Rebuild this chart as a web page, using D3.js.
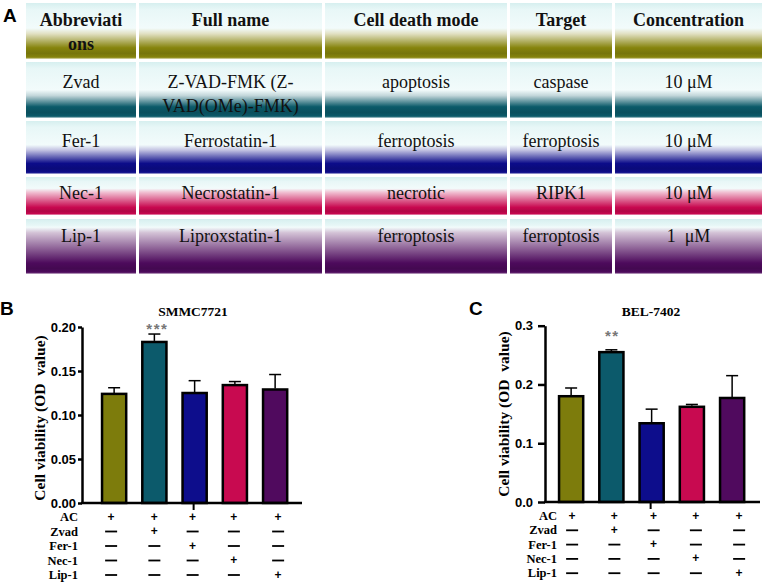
<!DOCTYPE html>
<html><head><meta charset="utf-8">
<script src="https://cdn.jsdelivr.net/npm/d3@7"></script>
<style>
html,body{margin:0;padding:0;background:#fff;}
svg{display:block;}
</style></head>
<body>
<svg id="chart" width="768" height="585"></svg>
<script>
// ---------- DATA ----------
const tableHeader = ["Abbreviati|ons", "Full name", "Cell death mode", "Target", "Concentration"];
const abbrevs = ["Zvad", "Fer-1", "Nec-1", "Lip-1"];
const fullNames = ["Z-VAD-FMK (Z-|VAD(OMe)-FMK)", "Ferrostatin-1", "Necrostatin-1", "Liproxstatin-1"];
const deathModes = ["apoptosis", "ferroptosis", "necrotic", "ferroptosis"];
const targets = ["caspase", "ferroptosis", "RIPK1", "ferroptosis"];
const concentrations = ["10 \u03bcM", "10 \u03bcM", "10 \u03bcM", "1  \u03bcM"];
const rowColors = ["#86840c", "#0b5a69", "#0c0c8a", "#c8084f", "#4d0a5c"];

const groups = ["AC", "AC+Zvad", "AC+Fer-1", "AC+Nec-1", "AC+Lip-1"];
const barColors = ["#7d7c0c", "#0c5a6b", "#0d0d8c", "#c80a50", "#500a5e"];
const smmcMean = [0.124, 0.183, 0.125, 0.134, 0.129];
const smmcErr  = [0.007, 0.009, 0.014, 0.004, 0.017];
const belMean  = [0.180, 0.255, 0.134, 0.162, 0.177];
const belErr   = [0.014, 0.004, 0.024, 0.004, 0.038];
const smmcTicks = [0, 0.05, 0.10, 0.15, 0.20];
const belTicks  = [0, 0.1, 0.2, 0.3];
const smmcSig = "***";
const belSig = "**";
const treatLabels = ["AC", "Zvad", "Fer-1", "Nec-1", "Lip-1"];
const treatMatrix = [
  [1,1,1,1,1],
  [0,1,0,0,0],
  [0,0,1,0,0],
  [0,0,0,1,0],
  [0,0,0,0,1]
];

// ---------- TABLE (panel A) ----------
const svg = d3.select("#chart");
const defs = svg.append("defs");
const colEdges = [[26,136],[139,322],[325,507],[510,612],[615,762]];
const rowEdges = [[3,59],[62,118],[121,174],[177,215],[219,274]];
const bandStart = [0.55, 0.6, 0.55, 0.4, 0.25];

rowColors.forEach((c, i) => {
  const g = defs.append("linearGradient").attr("id", "g" + i)
    .attr("x1", 0).attr("y1", 0).attr("x2", 0).attr("y2", 1);
  const light = d3.interpolateRgb(c, "#ffffff")(0.75);
  const dark = d3.color(c).darker(0.35);
  const stops = [
    [0, "#d6efef"], [0.12, "#e8f7f7"], [bandStart[i] - 0.1, "#f2fbfb"],
    [bandStart[i], light], [0.8, c], [0.9, dark], [0.97, c], [1, light]
  ];
  stops.forEach(s => g.append("stop").attr("offset", s[0]).attr("stop-color", s[1]));
});

const tableData = [tableHeader].concat(abbrevs.map((a, i) => [a, fullNames[i], deathModes[i], targets[i], concentrations[i]]));
const table = svg.append("g");
tableData.forEach((row, r) => {
  row.forEach((txt, c) => {
    const [x0, x1] = colEdges[c];
    const [y0, y1] = rowEdges[r];
    table.append("rect").attr("x", x0).attr("y", y0).attr("width", x1 - x0).attr("height", y1 - y0)
      .attr("fill", `url(#g${r})`);
    const lines = txt.split("|");
    const cx = (x0 + x1) / 2;
    const textY = r === 0 ? 26 : [0, 88, 147, 199, 242][r];
    lines.forEach((ln, k) => {
      table.append("text").attr("x", cx).attr("y", textY + k * 24)
        .attr("text-anchor", "middle")
        .attr("font-family", "'Liberation Serif','DejaVu Serif',serif")
        .attr("font-size", 18)
        .attr("font-weight", r === 0 ? "bold" : "normal")
        .attr("fill", "#111")
        .attr("xml:space", "preserve")
        .text(ln);
    });
  });
});

// panel letters
const letterStyle = sel => sel.attr("font-family", "'Liberation Sans',Arial,sans-serif").attr("font-weight", "bold").attr("font-size", 19).attr("fill", "#000");
svg.append("text").attr("x", 3).attr("y", 22).text("A").call(letterStyle);
svg.append("text").attr("x", 0).attr("y", 315).text("B").call(letterStyle);
svg.append("text").attr("x", 469).attr("y", 315).text("C").call(letterStyle);

// ---------- BAR CHARTS ----------
function drawPanel(opt) {
  const g = svg.append("g");
  const x = d3.scaleBand().domain(groups).range(opt.xr).paddingInner(0.4).paddingOuter(0.2);
  const y = d3.scaleLinear().domain(opt.domain).range(opt.yr);

  // bars
  g.selectAll(".bar").data(opt.mean).enter().append("rect")
    .attr("x", (d, i) => x(groups[i]))
    .attr("y", d => y(d))
    .attr("width", x.bandwidth())
    .attr("height", d => y(0) - y(d))
    .attr("fill", (d, i) => barColors[i])
    .attr("stroke", "#000").attr("stroke-width", 2.5);

  // error bars
  opt.mean.forEach((m, i) => {
    const cx = x(groups[i]) + x.bandwidth() / 2;
    const top = y(m + opt.err[i]);
    g.append("line").attr("x1", cx).attr("x2", cx).attr("y1", y(m) - 1).attr("y2", top)
      .attr("stroke", "#000").attr("stroke-width", 1.5);
    g.append("line").attr("x1", cx - 6).attr("x2", cx + 6).attr("y1", top).attr("y2", top)
      .attr("stroke", "#000").attr("stroke-width", 1.5);
  });

  // y axis
  const ya = g.append("g").attr("transform", `translate(${opt.axisX},0)`)
    .call(d3.axisLeft(y).tickValues(opt.ticks).tickFormat(d3.format(opt.fmt)).tickSize(opt.tickLen).tickPadding(opt.tickPad).tickSizeOuter(0));
  ya.select(".domain").attr("stroke", "#000").attr("stroke-width", 2.5);
  ya.selectAll(".tick line").attr("stroke", "#000").attr("stroke-width", 2.5);
  ya.selectAll(".tick text").attr("font-family", "'Liberation Sans',Arial,sans-serif")
    .attr("font-weight", "bold").attr("font-size", 13).attr("fill", "#000");

  // x axis line
  g.append("line").attr("x1", opt.axisX - 1).attr("x2", opt.axisEnd).attr("y1", y(0)).attr("y2", y(0))
    .attr("stroke", "#000").attr("stroke-width", 2.5);
  const midX = x(groups[2]) + x.bandwidth() / 2 - 1;
  g.append("line").attr("x1", midX).attr("x2", midX).attr("y1", y(0)).attr("y2", y(0) + 7)
    .attr("stroke", "#000").attr("stroke-width", 2);

  // y title
  g.append("text").attr("transform", `translate(${opt.titleX},${opt.titleY}) rotate(-90)`)
    .attr("text-anchor", "middle")
    .attr("font-family", "'Liberation Serif','DejaVu Serif',serif")
    .attr("font-weight", "bold").attr("font-size", 15.5).attr("fill", "#000")
    .attr("xml:space", "preserve")
    .text("Cell viability (OD  value)");

  // chart title
  g.append("text").attr("x", opt.headX).attr("y", 316).attr("text-anchor", "middle")
    .attr("font-family", "'Liberation Serif','DejaVu Serif',serif")
    .attr("font-weight", "bold").attr("font-size", 13.5).attr("fill", "#000")
    .text(opt.title);

  // significance
  const sx = x(groups[1]) + x.bandwidth() / 2 + opt.sigDx;
  g.append("text").attr("x", sx).attr("y", opt.sigY).attr("text-anchor", "middle")
    .attr("font-family", "'Liberation Sans',Arial,sans-serif").attr("font-weight", "bold")
    .attr("font-size", 15).attr("fill", "#777").attr("letter-spacing", 1.5)
    .text(opt.sig);

  // treatment table
  treatLabels.forEach((lab, r) => {
    const ty = opt.rowY0 + r * opt.rowStep;
    g.append("text").attr("x", opt.labelX).attr("y", ty).attr("text-anchor", "end")
      .attr("font-family", "'Liberation Serif','DejaVu Serif',serif")
      .attr("font-weight", "bold").attr("font-size", 12.5).attr("fill", "#000").text(lab);
    treatMatrix[r].forEach((v, c) => {
      const cx = x(groups[c]) + x.bandwidth() / 2 + opt.colDx[c];
      if (v) {
        g.append("text").attr("x", cx).attr("y", ty - 0.5).attr("text-anchor", "middle")
          .attr("font-family", "'Liberation Sans',Arial,sans-serif").attr("font-weight", "bold")
          .attr("font-size", 12).attr("fill", "#000").text("+");
      } else {
        g.append("line").attr("x1", cx - 6).attr("x2", cx + 6).attr("y1", ty - 4).attr("y2", ty - 4)
          .attr("stroke", "#000").attr("stroke-width", 1.8);
      }
    });
  });
}

drawPanel({
  xr: [94, 295.25], domain: [0, 0.2], yr: [503, 327], ticks: smmcTicks, fmt: ".2f",
  tickLen: 4, tickPad: 2,
  mean: smmcMean, err: smmcErr, axisX: 82, axisEnd: 302,
  titleX: 45, titleY: 418, headX: 193, title: "SMMC7721",
  sig: smmcSig, sigDx: 3, sigY: 334,
  labelX: 78, rowY0: 521, rowStep: 14.5, colDx: [-3, 0, -2, -1, 3]
});
drawPanel({
  xr: [551, 752.25], domain: [0, 0.3], yr: [502, 325.7], ticks: belTicks, fmt: ".1f",
  tickLen: 7, tickPad: 5,
  mean: belMean, err: belErr, axisX: 545, axisEnd: 760,
  titleX: 509, titleY: 414, headX: 651, title: "BEL-7402",
  sig: belSig, sigDx: 1, sigY: 341,
  labelX: 557, rowY0: 520, rowStep: 14.3, colDx: [1, 3, 2, 4, 7]
});
</script>
</body></html>
